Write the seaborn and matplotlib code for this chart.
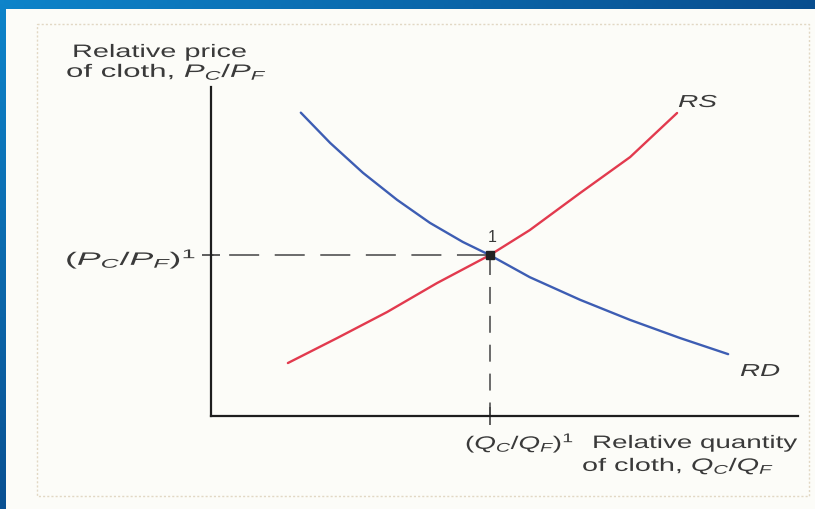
import numpy as np
import matplotlib
matplotlib.use("Agg")
import matplotlib.pyplot as plt
import seaborn as sns
from matplotlib.patches import Rectangle
from matplotlib.patheffects import AbstractPathEffect
from matplotlib.transforms import Affine2D

# ---- data ----
rd_q = [1.53, 2.03, 2.59, 3.17, 3.73, 4.29, 4.75, 5.43, 6.29, 7.14, 7.99, 8.81]
rd_p = [9.22, 8.30, 7.39, 6.57, 5.87, 5.29, 4.89, 4.22, 3.53, 2.92, 2.37, 1.88]
rs_q = [1.31, 2.15, 3.00, 3.85, 4.75, 5.43, 6.29, 7.14, 7.94]
rs_p = [1.61, 2.37, 3.16, 4.04, 4.89, 5.65, 6.78, 7.87, 9.21]
eq_q, eq_p = 4.75, 4.89

sns.set_theme(style="white")
plt.rcParams.update({
    "font.family": ["Liberation Sans", "DejaVu Sans"],
    "mathtext.fontset": "custom",
    "mathtext.rm": "Liberation Sans",
    "mathtext.it": "Liberation Sans:italic",
    "mathtext.bf": "Liberation Sans:bold",
    "lines.scale_dashes": False,
})


class HStretch(AbstractPathEffect):
    """Stretch text horizontally about its left origin (text stays text)."""

    def __init__(self, sx):
        super().__init__()
        self.sx = sx

    def draw_path(self, renderer, gc, tpath, affine, rgbFace=None):
        m = affine.get_matrix()
        x0, y0 = m[0, 2], m[1, 2]
        st = Affine2D().translate(-x0, -y0).scale(self.sx, 1.0).translate(x0, y0)
        renderer.draw_path(gc, tpath, affine + st, rgbFace)


W, H = 815, 509
fig = plt.figure(figsize=(W / 100, H / 100), dpi=100)

# ---- slide background ----
bg = fig.add_axes([0, 0, 1, 1], zorder=-10)
bg.set_axis_off()
xx, yy = np.meshgrid(np.linspace(0, 1, 200), np.linspace(0, 1, 130))
t = np.clip(0.85 * xx + 0.8 * yy, 0, 1)[..., None]
c0 = np.array([14, 132, 202]) / 255
c1 = np.array([8, 68, 132]) / 255
img = c0 * (1 - t) + c1 * t
bg.imshow(img, extent=[0, W, H, 0], aspect="auto")
bg.add_patch(Rectangle((6, 9), W, H, facecolor="#fcfcf8", edgecolor="none"))
bg.add_patch(Rectangle((37, 24), 772, 472, facecolor="none",
                       edgecolor="#e2d8c4", lw=1.0, ls=(0, (1.5, 1.5))))
bg.set_xlim(0, W)
bg.set_ylim(H, 0)

# ---- main axes ----
ax = fig.add_axes([211 / W, (H - 416) / H, 587 / W, 329 / H])
ax.set_facecolor("none")
ax.set_xlim(0, 10)
ax.set_ylim(0, 10)
for s in ["top", "right"]:
    ax.spines[s].set_visible(False)
for s in ["left", "bottom"]:
    ax.spines[s].set_color("#1e1e1e")
    ax.spines[s].set_linewidth(1.6)

ax.set_xticks([eq_q])
ax.set_yticks([eq_p])
ax.set_xticklabels([])
ax.set_yticklabels([])
ax.tick_params(bottom=True, left=True, direction="inout", length=13,
               width=1.1, color="#333333")
ax.set_xlabel("")
ax.set_ylabel("")

blue = "#3d5db3"
red = "#e23a4e"
sns.lineplot(x=rd_q, y=rd_p, sort=False, color=blue, lw=1.7, ax=ax)
sns.lineplot(x=rs_q, y=rs_p, sort=False, color=red, lw=1.7, ax=ax)

ax.plot([eq_q, 0], [eq_p, eq_p], color="#444444", lw=1.1,
        ls=(30.6, (21.6, 11.2)))
ax.plot([eq_q, eq_q], [eq_p, 0], color="#444444", lw=1.1,
        ls=(18.6, (12.2, 8.6)))
ax.plot([eq_q], [eq_p], marker="s", ms=5.5, color="#222222", zorder=5)

# ---- texts (left edge, baseline, right edge in pixels) ----
texts = []


def ftxt(px, py, s, right=None, **kw):
    kw.setdefault("color", "#3a3a3a")
    tx = fig.text(px / W, 1 - py / H, s, ha="left", va="baseline", **kw)
    texts.append((tx, px, right))


fs = 13
ftxt(72, 57, "Relative price", right=247, fontsize=fs)
ftxt(66, 77, r"of cloth, $P_C/P_F$", right=268, fontsize=fs)
ftxt(65, 265, r"$(P_C/P_F)^1$", right=198, fontsize=fs)
ftxt(465, 449, r"$(Q_C/Q_F)^1$", right=575, fontsize=fs)
ftxt(592, 448, "Relative quantity", right=797, fontsize=fs)
ftxt(582, 471, r"of cloth, $Q_C/Q_F$", right=775, fontsize=fs)
ftxt(488, 242, "1", fontsize=11.5)
ftxt(678, 107, "RS", right=717, fontsize=12.5, style="italic")
ftxt(740, 376, "RD", right=780, fontsize=12.5, style="italic")

fig.canvas.draw()
rend = fig.canvas.get_renderer()
for tx, left, right in texts:
    if right is None:
        continue
    bb = tx.get_window_extent(rend)
    tx.set_path_effects([HStretch((right - left) / bb.width)])

fig.savefig("out.png", dpi=100)
